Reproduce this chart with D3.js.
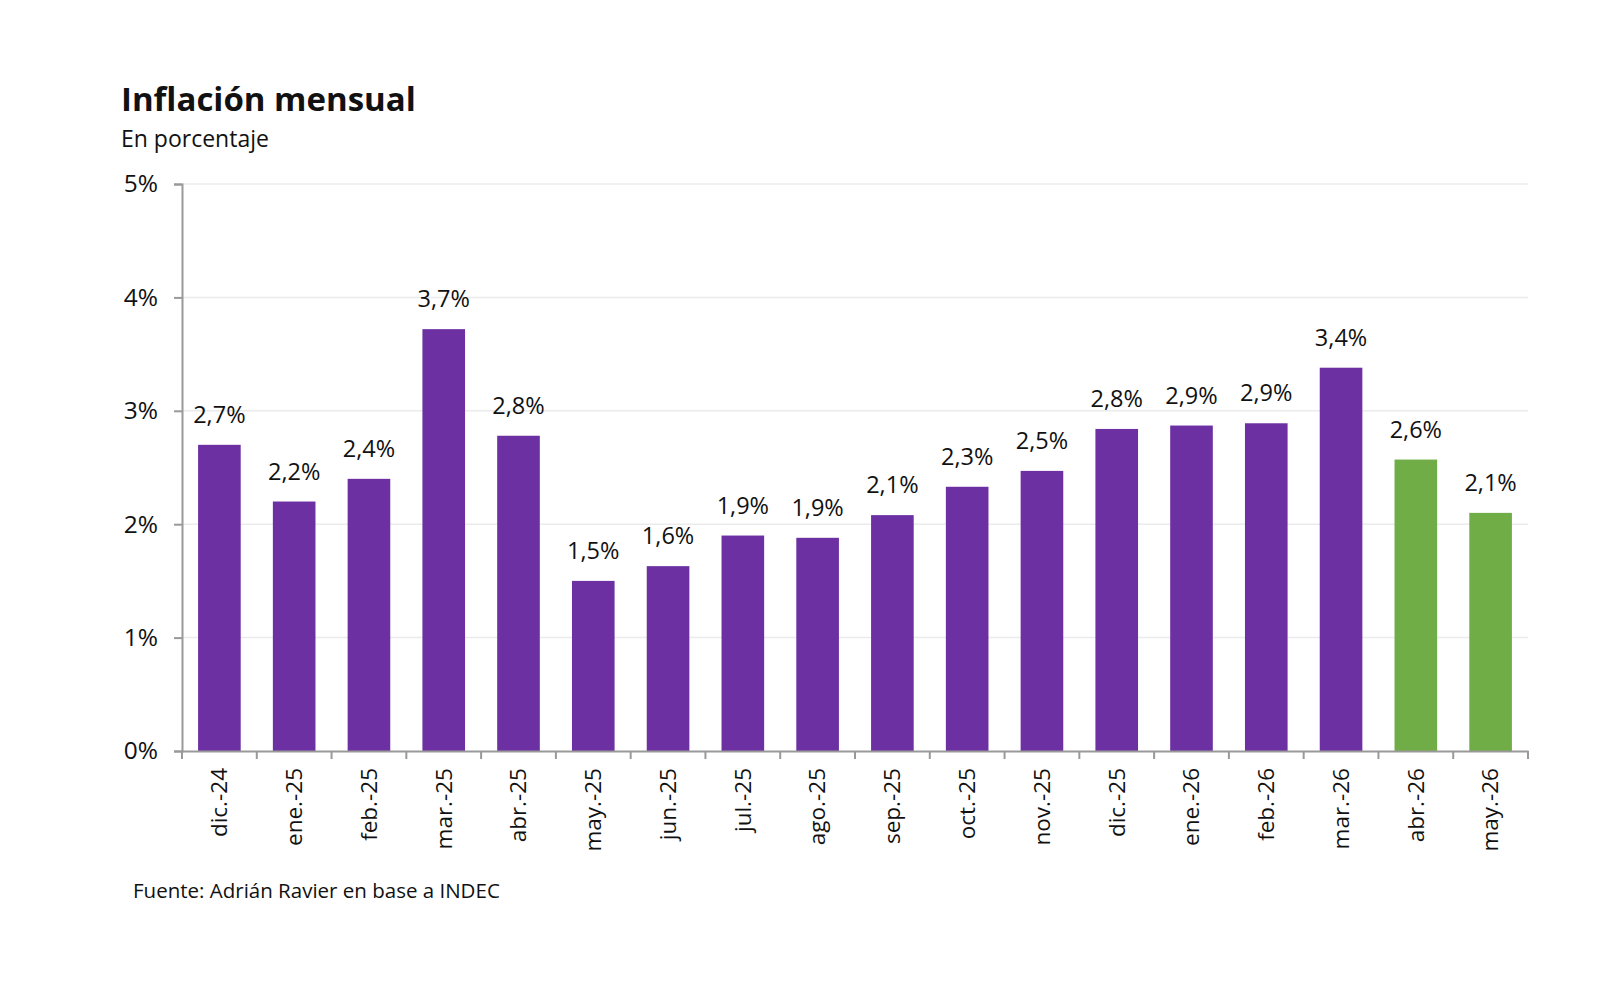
<!DOCTYPE html>
<html>
<head>
<meta charset="utf-8">
<script src="https://cdn.jsdelivr.net/npm/d3@7"></script>
<style>
  body { margin: 0; background: #fff; }
  text { font-family: "Open Sans", sans-serif; fill: #111; }
</style>
</head>
<body>
<script>
var width = 1597;
var height = 985;

var months = ["dic.-24", "ene.-25", "feb.-25", "mar.-25", "abr.-25", "may.-25", "jun.-25",
              "jul.-25", "ago.-25", "sep.-25", "oct.-25", "nov.-25", "dic.-25", "ene.-26",
              "feb.-26", "mar.-26", "abr.-26", "may.-26"];
var inflation = [2.70, 2.20, 2.40, 3.72, 2.78, 1.50, 1.63, 1.90, 1.88, 2.08, 2.33, 2.47,
                 2.84, 2.87, 2.89, 3.38, 2.57, 2.10];
var highlighted = ["abr.-26", "may.-26"];
var yTicks = [0, 1, 2, 3, 4, 5];

var margin = {top: 184, left: 182, right: 69, bottom: 234};

var svg = d3.select("body")
            .append("svg")
            .attr("width", width)
            .attr("height", height);

var x = d3.scaleBand()
          .domain(months)
          .range([margin.left, width - margin.right])
          .paddingInner(0.43)
          .paddingOuter(0.215);

var y = d3.scaleLinear()
          .domain([0, 5])
          .range([height - margin.bottom, margin.top]);

var fmt = function(v) { return d3.format(".1f")(v).replace(".", ",") + "%"; };

// gridlines
svg.selectAll("line.grid")
   .data(yTicks.slice(1))
   .enter()
   .append("line")
   .attr("class", "grid")
   .attr("x1", margin.left)
   .attr("x2", width - margin.right)
   .attr("y1", function(d) { return y(d); })
   .attr("y2", function(d) { return y(d); })
   .attr("stroke", "#ebebeb")
   .attr("stroke-width", 1.5);

// bars
svg.selectAll("rect.bar")
   .data(months)
   .enter()
   .append("rect")
   .attr("class", "bar")
   .attr("x", function(d) { return x(d); })
   .attr("width", x.bandwidth())
   .attr("y", function(d, i) { return y(inflation[i]); })
   .attr("height", function(d, i) { return y(0) - y(inflation[i]); })
   .attr("fill", function(d) { return highlighted.indexOf(d) >= 0 ? "#70ad47" : "#6c30a2"; });

// value labels
svg.selectAll("text.val")
   .data(months)
   .enter()
   .append("text")
   .attr("class", "val")
   .attr("x", function(d) { return x(d) + x.bandwidth() / 2; })
   .attr("y", function(d, i) { return y(inflation[i]) - 22; })
   .attr("text-anchor", "middle")
   .style("font-size", "23.5px")
   .text(function(d, i) { return fmt(inflation[i]); });

// y axis
var yAxis = svg.append("g")
   .attr("transform", "translate(" + margin.left + ",0)")
   .call(d3.axisLeft(y).tickValues(yTicks).tickSize(8).tickPadding(16)
           .tickFormat(function(d) { return d + "%"; }));
yAxis.selectAll("text").style("font-size", "24.5px");

// x axis
var xAxis = svg.append("g")
   .attr("transform", "translate(0," + y(0) + ")")
   .call(d3.axisBottom(x).tickSize(0).tickPadding(0));
xAxis.selectAll("text")
     .style("font-size", "22.5px")
     .attr("text-anchor", "end")
     .attr("dy", "0.35em")
     .attr("transform", "translate(0,17) rotate(-90)");

// band boundary ticks
var bounds = d3.range(months.length + 1).map(function(i) { return margin.left + i * (width - margin.right - margin.left) / months.length; });
xAxis.selectAll("line.bt")
     .data(bounds)
     .enter()
     .append("line")
     .attr("class", "bt")
     .attr("x1", function(d) { return d; })
     .attr("x2", function(d) { return d; })
     .attr("y1", 0)
     .attr("y2", 8)
     .attr("stroke", "#999")
     .attr("stroke-width", 2);

svg.selectAll(".domain").attr("stroke", "#999").attr("stroke-width", 2);
yAxis.selectAll(".tick line").attr("stroke", "#999").attr("stroke-width", 2);

// titles
svg.append("text")
   .attr("x", 121)
   .attr("y", 111)
   .style("font-size", "33px")
   .style("font-weight", "bold")
   .text("Inflación mensual");

svg.append("text")
   .attr("x", 121)
   .attr("y", 147)
   .style("font-size", "23px")
   .text("En porcentaje");

svg.append("text")
   .attr("x", 133)
   .attr("y", 898)
   .style("font-size", "20.5px")
   .text("Fuente: Adrián Ravier en base a INDEC");
</script>
</body>
</html>
